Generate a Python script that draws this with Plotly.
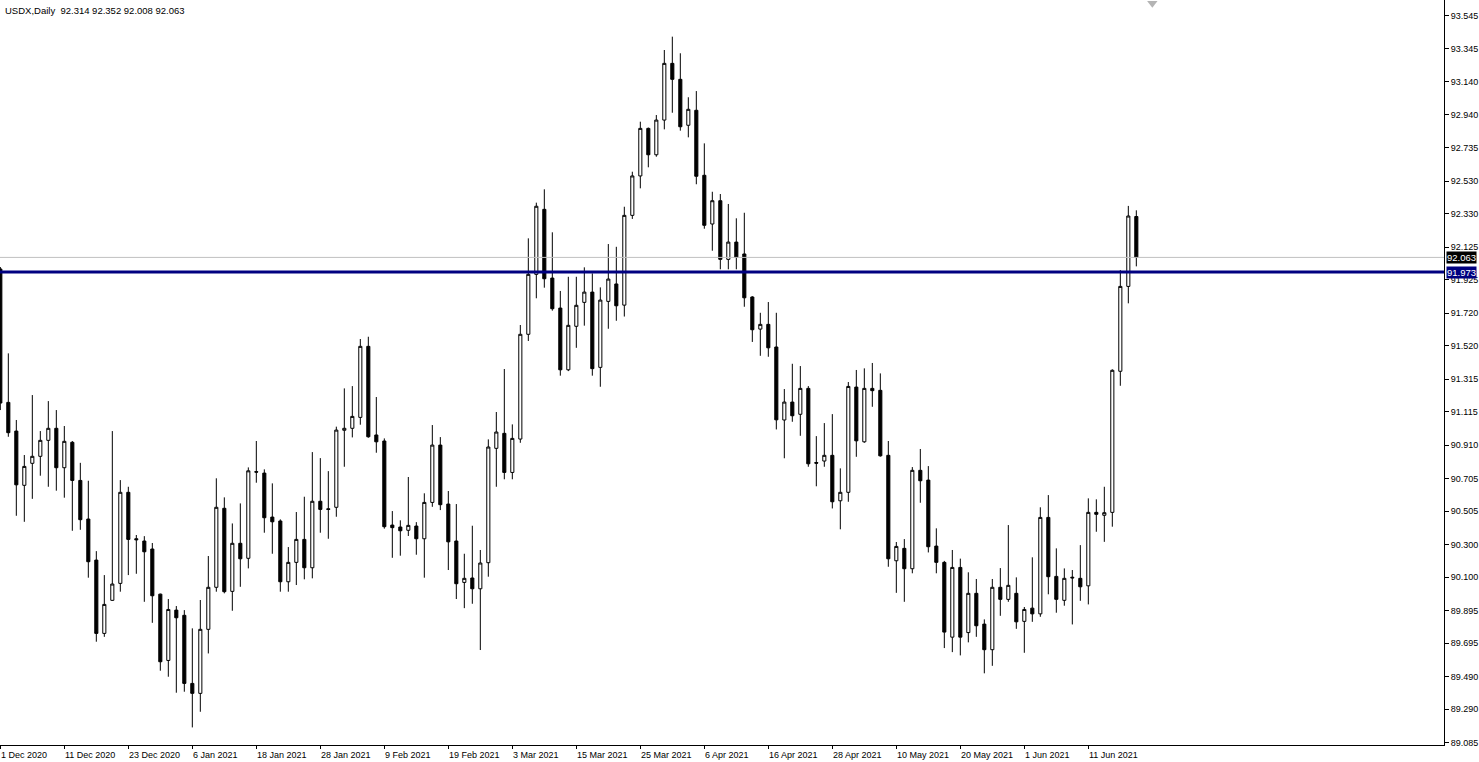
import pandas as pd
import plotly.graph_objects as go

# ---------------- data ----------------
holidays = ["2020-12-25", "2021-01-01"]
dates = [d for d in pd.bdate_range("2020-12-01", "2021-06-21") if d.strftime("%Y-%m-%d") not in holidays]

opens = [91.992, 91.173, 90.997, 90.664, 90.799, 90.842, 90.940, 91.014, 90.772, 90.928,
         90.694, 90.457, 90.205, 89.755, 89.958, 90.062, 90.621, 90.336, 90.322, 90.273,
         89.996, 89.589, 89.898, 89.866, 89.448, 89.387, 89.780, 90.038, 90.523, 90.013,
         90.308, 90.216, 90.748, 90.739, 90.469, 90.445, 90.072, 90.191, 90.332, 90.158,
         90.566, 90.520, 90.529, 91.002, 91.014, 91.081, 91.517, 90.973, 90.936, 90.420,
         90.408, 90.388, 90.414, 90.336, 90.559, 90.911, 90.549, 90.322, 90.068, 90.095,
         90.029, 90.189, 90.891, 90.983, 90.743, 90.948, 91.591, 91.959, 92.358, 91.936,
         91.752, 91.373, 91.640, 91.787, 91.850, 91.388, 91.793, 91.900, 91.770, 92.321,
         92.563, 92.855, 92.693, 92.906, 93.254, 93.156, 92.874, 92.966, 92.567, 92.268,
         92.411, 92.051, 92.157, 92.084, 91.820, 91.623, 91.652, 91.513, 91.065, 91.175,
         91.100, 91.259, 90.804, 90.813, 90.848, 90.569, 90.621, 91.267, 90.931, 91.259,
         91.247, 90.848, 90.201, 90.277, 90.152, 90.756, 90.696, 90.291, 90.191, 89.732,
         90.160, 89.760, 90.001, 89.812, 89.655, 90.038, 89.964, 90.001, 89.829, 89.910,
         89.875, 90.467, 90.105, 89.958, 90.100, 90.093, 90.047, 90.498, 90.480, 90.498,
         91.364, 91.885, 92.314]
highs = [92.004, 91.474, 91.065, 90.850, 91.218, 90.997, 91.181, 91.126, 91.028, 90.936,
         90.802, 90.692, 90.260, 90.113, 90.997, 90.696, 90.655, 90.359, 90.352, 90.310,
         89.999, 89.966, 89.923, 89.898, 89.786, 89.960, 90.230, 90.707, 90.590, 90.430,
         90.553, 90.774, 90.936, 90.762, 90.676, 90.455, 90.285, 90.500, 90.594, 90.868,
         90.831, 90.751, 91.024, 91.259, 91.273, 91.562, 91.576, 91.206, 90.952, 90.506,
         90.449, 90.715, 90.438, 90.615, 91.034, 90.960, 90.629, 90.549, 90.244, 90.416,
         90.267, 90.946, 91.114, 91.378, 91.038, 91.648, 92.180, 92.399, 92.481, 92.217,
         91.857, 91.944, 91.944, 92.002, 91.965, 91.879, 92.145, 92.128, 92.374, 92.589,
         92.896, 92.860, 92.937, 93.336, 93.418, 93.316, 93.046, 93.084, 92.763, 92.466,
         92.452, 92.391, 92.303, 92.337, 91.825, 91.723, 91.789, 91.723, 91.255, 91.410,
         91.396, 91.273, 90.966, 91.046, 91.101, 90.768, 91.298, 91.372, 91.382, 91.415,
         91.351, 90.936, 90.316, 90.334, 90.776, 90.887, 90.782, 90.400, 90.200, 90.267,
         90.214, 90.130, 90.089, 89.841, 90.089, 90.156, 90.420, 90.099, 89.917, 90.222,
         90.529, 90.604, 90.277, 90.154, 90.144, 90.297, 90.584, 90.578, 90.655, 91.376,
         91.985, 92.379, 92.352]
lows = [91.126, 90.962, 90.477, 90.440, 90.581, 90.723, 90.655, 90.631, 90.588, 90.385,
        90.391, 90.097, 89.704, 89.734, 89.955, 90.011, 90.113, 90.121, 89.949, 89.820,
        89.526, 89.489, 89.391, 89.397, 89.178, 89.274, 89.632, 90.011, 90.001, 89.894,
        90.041, 90.154, 90.680, 90.373, 90.244, 90.011, 90.011, 90.052, 90.087, 90.093,
        90.373, 90.336, 90.471, 90.778, 90.958, 91.036, 90.956, 90.864, 90.398, 90.219,
        90.232, 90.353, 90.238, 90.097, 90.532, 90.512, 90.144, 89.966, 89.910, 89.937,
        89.653, 90.103, 90.655, 90.701, 90.701, 90.925, 91.550, 91.812, 91.877, 91.736,
        91.337, 91.365, 91.508, 91.644, 91.337, 91.269, 91.625, 91.674, 91.700, 92.299,
        92.487, 92.616, 92.681, 92.849, 92.951, 92.841, 92.800, 92.512, 92.239, 92.104,
        91.990, 91.990, 91.990, 91.760, 91.544, 91.459, 91.453, 91.007, 90.830, 91.054,
        90.968, 90.778, 90.658, 90.778, 90.522, 90.394, 90.563, 90.839, 90.925, 91.146,
        90.840, 90.164, 90.004, 89.949, 90.124, 90.557, 90.252, 90.124, 89.665, 89.640,
        89.620, 89.700, 89.734, 89.510, 89.556, 89.863, 89.949, 89.783, 89.636, 89.826,
        89.857, 89.995, 89.882, 89.925, 89.810, 89.955, 89.933, 90.379, 90.317, 90.410,
        91.275, 91.781, 92.008]
closes = [91.169, 90.987, 90.667, 90.780, 90.842, 90.940, 91.014, 90.772, 90.934, 90.694,
          90.453, 90.195, 89.755, 89.933, 90.058, 90.621, 90.332, 90.330, 90.256, 89.986,
          89.581, 89.902, 89.851, 89.448, 89.387, 89.780, 90.038, 90.529, 90.011, 90.308,
          90.213, 90.753, 90.745, 90.465, 90.440, 90.072, 90.191, 90.332, 90.158, 90.566,
          90.516, 90.516, 91.003, 91.014, 91.087, 91.517, 90.962, 90.931, 90.410, 90.404,
          90.385, 90.418, 90.336, 90.559, 90.911, 90.545, 90.317, 90.060, 90.093, 90.029,
          90.187, 90.899, 90.991, 90.743, 90.952, 91.591, 91.959, 92.377, 91.932, 91.748,
          91.373, 91.646, 91.769, 91.850, 91.380, 91.801, 91.930, 91.766, 92.321, 92.563,
          92.855, 92.693, 92.906, 93.254, 93.156, 92.865, 92.972, 92.561, 92.260, 92.411,
          92.051, 92.157, 92.063, 91.815, 91.619, 91.652, 91.508, 91.066, 91.175, 91.091,
          91.259, 90.796, 90.800, 90.848, 90.563, 90.621, 91.271, 90.937, 91.259, 91.245,
          90.845, 90.213, 90.289, 90.152, 90.756, 90.692, 90.287, 90.191, 89.763, 90.160,
          89.732, 90.001, 89.802, 89.655, 90.038, 89.964, 90.050, 89.826, 89.902, 89.875,
          90.467, 90.103, 89.964, 90.093, 90.096, 90.041, 90.498, 90.486, 90.496, 91.370,
          91.885, 92.317, 92.063]

x_label_dates = ["2020-12-01", "2020-12-11", "2020-12-23", "2021-01-06", "2021-01-18", "2021-01-28",
                 "2021-02-09", "2021-02-19", "2021-03-03", "2021-03-15", "2021-03-25", "2021-04-06",
                 "2021-04-16", "2021-04-28", "2021-05-10", "2021-05-20", "2021-06-01", "2021-06-11"]
x_label_text = ["1 Dec 2020", "11 Dec 2020", "23 Dec 2020", "6 Jan 2021", "18 Jan 2021", "28 Jan 2021",
                "9 Feb 2021", "19 Feb 2021", "3 Mar 2021", "15 Mar 2021", "25 Mar 2021", "6 Apr 2021",
                "16 Apr 2021", "28 Apr 2021", "10 May 2021", "20 May 2021", "1 Jun 2021", "11 Jun 2021"]
y_tick_vals = [93.545, 93.345, 93.140, 92.940, 92.735, 92.530, 92.330, 92.125, 91.925, 91.720,
               91.520, 91.315, 91.115, 90.910, 90.705, 90.505, 90.300, 90.100, 89.895, 89.695,
               89.490, 89.290, 89.085]
y_tick_text = ["%.3f" % v for v in y_tick_vals]

symbol = "USDX,Daily"
bid_price = 92.063
level_price = 91.973

# ---------------- figure ----------------
idx = list(range(len(dates)))
date_strs = [d.strftime("%Y-%m-%d") for d in dates]
label_idx = [date_strs.index(d) for d in x_label_dates]

FONT = "Liberation Sans"
fig = go.Figure()
fig.add_trace(go.Candlestick(
    x=idx, open=opens, high=highs, low=lows, close=closes,
    increasing=dict(fillcolor="white", line=dict(color="black", width=1)),
    decreasing=dict(fillcolor="black", line=dict(color="black", width=1)),
    whiskerwidth=0, showlegend=False, hoverinfo="skip",
))

# chart-shift marker (small grey triangle at top)
y_top = 93.643
fig.add_trace(go.Scatter(
    x=[len(idx) + 1], y=[y_top - 0.02], mode="markers",
    marker=dict(symbol="triangle-down", size=9, color="#b4b4b4"),
    showlegend=False, hoverinfo="skip", cliponaxis=False,
))

PX = 8.0
plot_w = 1444
x_left = -0.04
x_right = x_left + plot_w / PX

fig.add_hline(y=bid_price, line=dict(color="#c0c0c0", width=1))
fig.add_hline(y=level_price, line=dict(color="#000080", width=3))

annotations = []
for i, t in zip(label_idx, x_label_text):
    annotations.append(dict(x=i, y=0, xref="x", yref="paper", text=t, showarrow=False,
                            xanchor="left", yanchor="top", yshift=-3, xshift=-1,
                            font=dict(family=FONT, size=9, color="black")))
annotations.append(dict(x=0, y=1, xref="paper", yref="paper",
                        text="%s  %.3f %.3f %.3f %.3f" % (symbol, opens[-1], highs[-1], lows[-1], closes[-1]),
                        showarrow=False, xanchor="left", yanchor="top", xshift=3, yshift=-3,
                        font=dict(family=FONT, size=9.5, color="black")))
annotations.append(dict(x=1, y=bid_price, xref="paper", yref="y", text="%.3f" % bid_price,
                        showarrow=False, xanchor="left", yanchor="middle", xshift=2,
                        bgcolor="black", borderpad=0, font=dict(family=FONT, size=9.5, color="white")))
annotations.append(dict(x=1, y=level_price, xref="paper", yref="y", text="%.3f" % level_price,
                        showarrow=False, xanchor="left", yanchor="middle", xshift=2,
                        bgcolor="#000080", borderpad=0, font=dict(family=FONT, size=9.5, color="white")))

fig.update_layout(
    width=1479, height=762,
    margin=dict(l=0, r=35, t=0, b=17, pad=0),
    paper_bgcolor="white", plot_bgcolor="white",
    boxgap=0.45,
    showlegend=False,
    annotations=annotations,
    xaxis=dict(range=[x_left, x_right], rangeslider=dict(visible=False),
               showgrid=False, zeroline=False, showline=True, linecolor="black", linewidth=1,
               tickvals=label_idx, ticks="outside", ticklen=3, tickcolor="black",
               showticklabels=False, fixedrange=True),
    yaxis=dict(side="right", range=[89.070, 93.643], showgrid=False, zeroline=False,
               showline=True, linecolor="black", linewidth=1,
               tickvals=y_tick_vals, ticktext=y_tick_text, ticks="outside", ticklen=4,
               tickcolor="black", tickfont=dict(family=FONT, size=9, color="black")),
)

fig.write_html("out.html", config={"displayModeBar": False},
               post_script="document.body.style.margin='0px';document.body.style.overflow='hidden';")
